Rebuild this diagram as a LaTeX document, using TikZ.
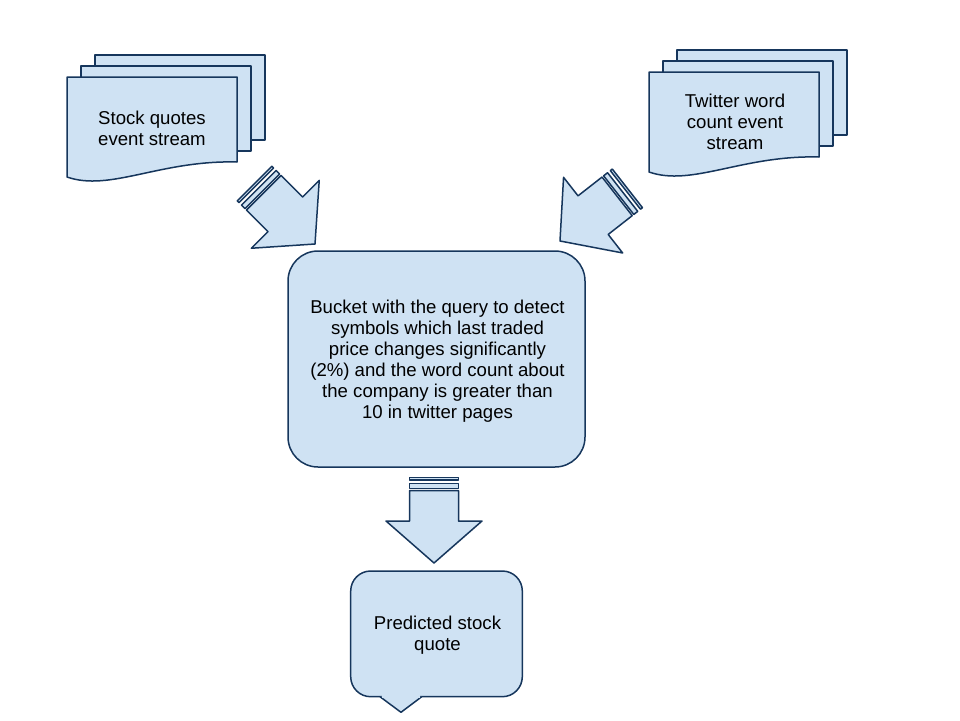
\documentclass[tikz,border=0pt]{standalone}
\usepackage{fontspec}
\setmainfont{Liberation Sans}
\usepackage{tikz}
\usetikzlibrary{positioning}
\definecolor{mfill}{RGB}{207, 226, 243}
\definecolor{mline}{RGB}{22, 54, 92}
\tikzset{shapeline/.style = {draw = mline, fill = mfill, line width = 1.5pt, line join = round}}
\tikzset{boxtext/.style = {align = center, font = \fontsize{18.6}{21}\selectfont}}
\tikzset{docstack/.pic = {
    \draw [shapeline] (28, -22) rectangle (198, 63);
    \draw [shapeline] (14, -11) rectangle (184, 74);
    \draw [shapeline] (0, 0) -- (170, 0) -- (170, 85) .. controls (93, 83) and (43, 115) .. (0, 100) -- cycle;
  }}
\tikzset{striparrow/.pic = {
    \draw [shapeline] (0, 0) -- (48, -42) -- (24.5, -42) -- (24.5, -72.5) -- (-24.5, -72.5) -- (-24.5, -42) -- (-48, -42) -- cycle;
    \draw [shapeline] (-24.5, -74.5) rectangle (24.5, -79.5);
    \draw [shapeline] (-24.5, -83) rectangle (24.5, -85.5);
  }}

\begin{document}
\begin{tikzpicture}[x = 1pt, y = -1pt]
      \useasboundingbox (0, 0) rectangle (960, 720);

      \pic at (67, 77) {docstack};
      \node [boxtext] (stocktext) at (152, 128) {Stock quotes\\event stream};

      \pic at (649, 72) {docstack};
      \node [boxtext] (twittertext) at (735, 122) {Twitter word\\count event\\stream};

      \pic [rotate = 45] at (315, 244) {striparrow};
      \pic [rotate = -52] at (560, 241) {striparrow};

      \node [shapeline, rounded corners = 30pt, minimum width = 297pt, minimum height = 216pt] (bucket) at (436.5, 359) {};
      \node [boxtext] (buckettext) at (437.5, 361)
        {Bucket with the query to detect\\symbols which last traded\\price changes significantly\\(2\%) and the word count about\\the company is greater than\\10 in twitter pages};

      \pic at (434, 563) {striparrow};

      % callout with its pointer
      \node [shapeline, rounded corners = 20pt, minimum width = 171.6pt, minimum height = 125.7pt] (quote) at (436.5, 633.85) {};
      \node [boxtext] (quotetext) at (437.5, 635) {Predicted stock\\quote};
      \draw [shapeline] (380, 696.7) -- (401, 712.3) -- (421.7, 696.7);
      \fill [mfill] (381.8, 695.3) rectangle (419.9, 698);
    \end{tikzpicture}
\end{document}
